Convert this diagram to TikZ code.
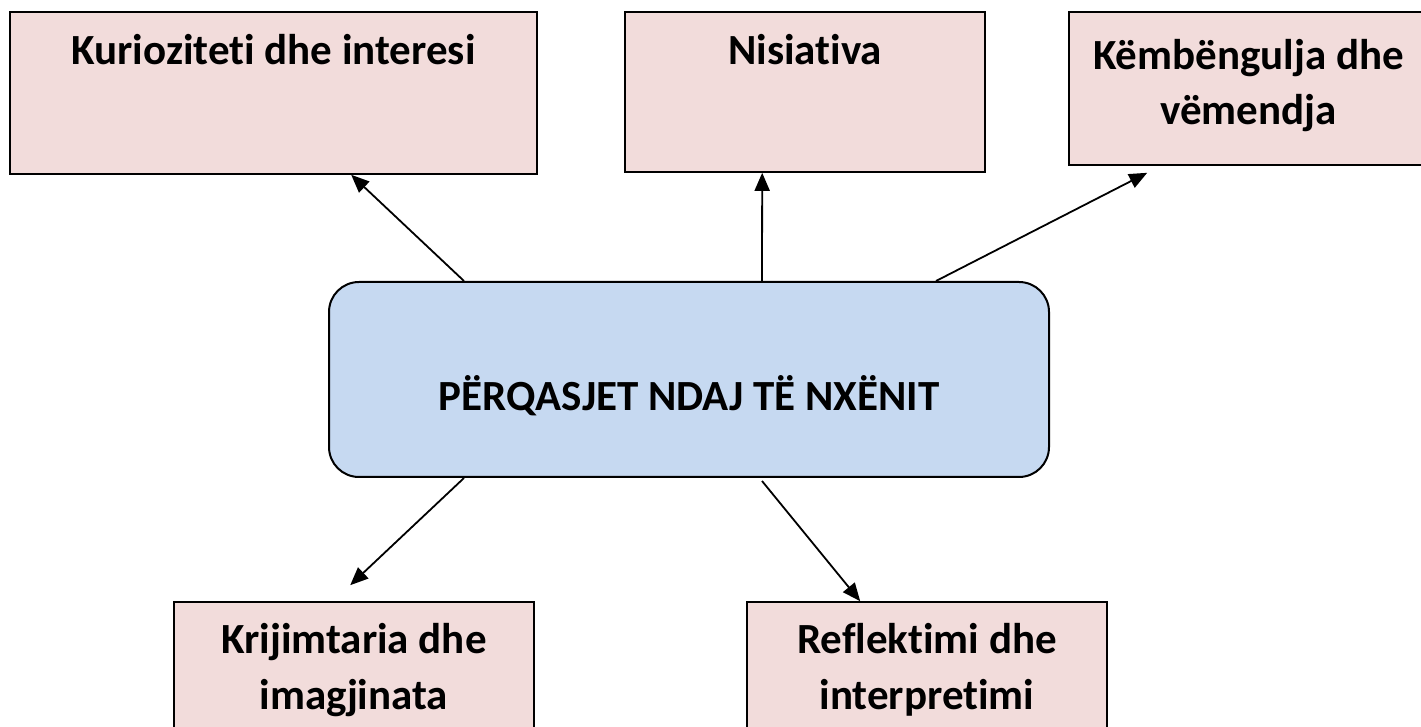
\documentclass[tikz,border=0pt]{standalone}
\usepackage{fontspec}
\setmainfont{Carlito}[Ligatures={NoCommon,NoRequired,NoContextual},RawFeature={-calt;-dlig}]
\usetikzlibrary{calc,arrows.meta}
\definecolor{pinkfill}{HTML}{F2DCDB}
\definecolor{bluefill}{HTML}{C6D9F1}
\newcommand\myti{t\kern0pt i}
\tikzset{
  pbox/.style={draw=black, line width=1.6pt, fill=pinkfill, rectangle, inner sep=0pt},
  cbox/.style={draw=black, line width=2pt, fill=bluefill, rectangle, rounded corners=30pt, inner sep=0pt},
  lbl/.style={font=\fontsize{43}{54}\selectfont\bfseries, anchor=base, inner sep=0pt},
  arr/.style={line width=1.8pt, -{Triangle[length=18pt,width=15pt]}}
}
\begin{document}
\begin{tikzpicture}[x=1pt,y=1pt]
\useasboundingbox (0,0) rectangle (1421,726);
\clip (0,0) rectangle (1421,726);
% top boxes
\node[pbox, minimum width=527pt, minimum height=162pt] (b1) at (273.5,633) {};
\node[pbox, minimum width=360pt, minimum height=160pt] (b2) at (805,634) {};
\node[pbox, minimum width=359pt, minimum height=153pt] (b3) at (1248.5,637.5) {};
% centre box
\node[cbox, minimum width=720pt, minimum height=195pt] (c) at (689,346.5) {};
% bottom boxes
\node[pbox, minimum width=360pt, minimum height=160pt] (b4) at (354,44) {};
\node[pbox, minimum width=360pt, minimum height=160pt] (b5) at (927,44) {};
% labels
\node[lbl] (t1) at (273.5,661) {Kuriozite\myti{} dhe interesi};
\node[lbl] (t2) at (805,661) {Nisia\myti va};
\node[lbl] (t3a) at (1248.5,656) {Këmbëngulja dhe};
\node[lbl] (t3b) at (1248.5,601) {vëmendja};
\node[lbl] (tc) at (689,315) {PËRQASJET NDAJ TË NXËNIT};
\node[lbl] (t4a) at (354,73) {Krijimtaria dhe};
\node[lbl] (t4b) at (354,17) {imagjinata};
\node[lbl] (t5a) at (927,73) {Reflek\myti mi dhe};
\node[lbl] (t5b) at (927,17) {interpre\myti mi};
% connector end points
\coordinate (s1) at ($(c.north west)+(136,0)$);
\coordinate (e1) at ($(b1.south west)+(342,0)$);
\coordinate (s2) at ($(c.north west)+(434,0)$);
\coordinate (e2) at ($(b2.south west)+(138,0)$);
\coordinate (s3) at ($(c.north west)+(608,0)$);
\coordinate (e3) at ($(b3.south west)+(79,-7)$);
\coordinate (s4) at ($(c.south west)+(136,0)$);
\coordinate (e4) at ($(b4.north west)+(177,16)$);
\coordinate (s5) at ($(c.south west)+(434,-3)$);
\coordinate (e5) at ($(b5.north west)+(114,0)$);
\draw[arr] (s1) -- (e1);
\draw[arr] (s2) -- (e2);
\draw[arr] (s3) -- (e3);
\draw[arr] (s4) -- (e4);
\draw[arr] (s5) -- (e5);
\end{tikzpicture}
\end{document}
